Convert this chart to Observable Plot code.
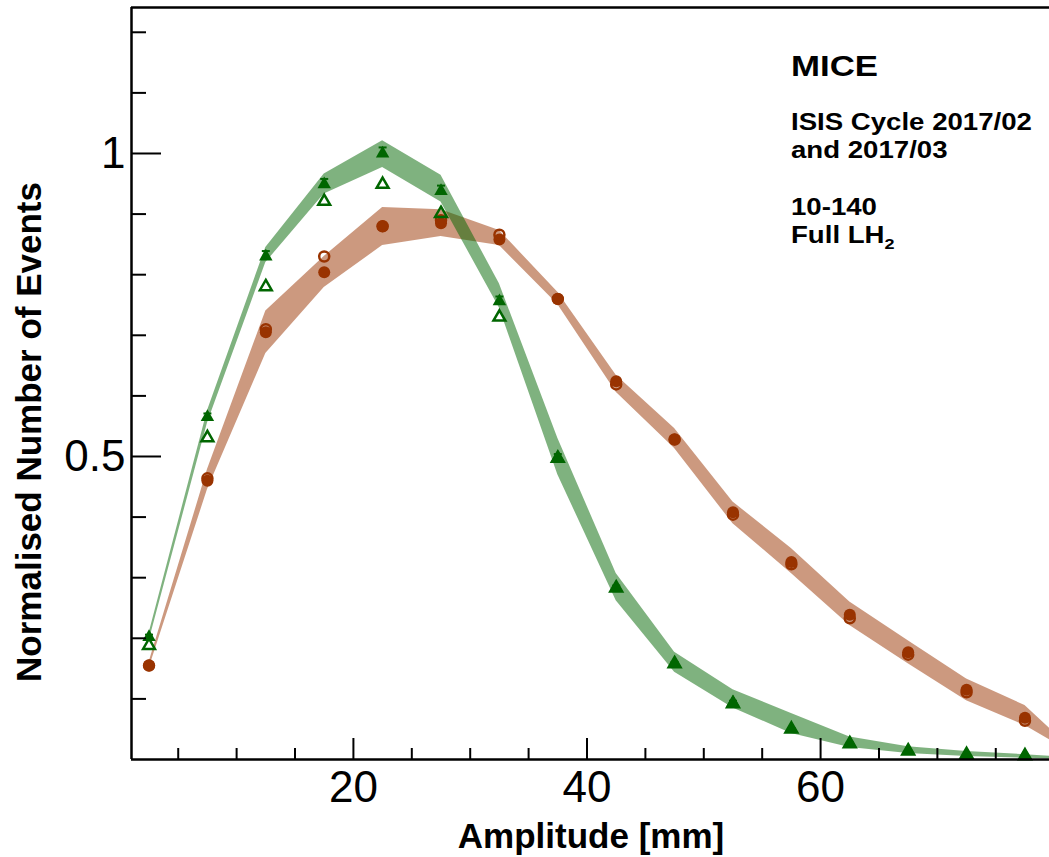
<!DOCTYPE html>
<html><head><meta charset="utf-8">
<script src="https://cdn.jsdelivr.net/npm/d3@7"></script>
<script src="https://cdn.jsdelivr.net/npm/@observablehq/plot@0.6"></script>
<style>
body{margin:0;background:#fff;}
#wrap{position:relative;width:1049px;height:857px;overflow:hidden;font-family:"Liberation Sans",Arial,sans-serif;}
.lbl{position:absolute;white-space:nowrap;line-height:1;font-weight:bold;color:#000;}
</style></head><body><div id="wrap"></div>
<script>
// ---- data ----
const amplitude = [2.5, 7.5, 12.5, 17.5, 22.5, 27.5, 32.5, 37.5, 42.5, 47.5, 52.5, 57.5, 62.5, 67.5, 72.5, 77.5];
const greenFilled    = [0.202, 0.565, 0.830, 0.949, 1.000, 0.938, 0.756, 0.498, 0.283, 0.158, 0.094, 0.050, 0.026, 0.014, 0.008, 0.0066];
const greenFilledErr = [0.004, 0.006, 0.009, 0.009, 0.010, 0.009, 0.008, 0.006, 0.004, 0.003, 0.003, 0.002, 0.002, 0.001, 0.001, 0.001];
const greenOpen      = [0.188, 0.531, 0.780, 0.921, 0.949, 0.901, 0.730, 0.497, 0.283, 0.158, 0.092, 0.050, 0.026, 0.014, 0.008, 0.006];
const brownFilled    = [0.155, 0.460, 0.705, 0.804, 0.880, 0.885, 0.858, 0.760, 0.624, 0.528, 0.408, 0.326, 0.239, 0.177, 0.115, 0.069];
const brownOpen      = [0.155, 0.464, 0.710, 0.830, 0.880, 0.890, 0.866, 0.760, 0.619, 0.528, 0.404, 0.322, 0.233, 0.173, 0.111, 0.064];

const bandAmplitude = [2.5, 7.5, 12.5, 17.5, 22.5, 27.5, 32.5, 37.5, 42.5, 47.5, 52.5, 57.5, 62.5, 67.5, 72.5, 77.5, 82.5];
const greenLo = [0.195, 0.555, 0.820, 0.933, 0.977, 0.920, 0.745, 0.470, 0.262, 0.144, 0.085, 0.043, 0.020, 0.010, 0.005, 0.002, 0.000];
const greenHi = [0.208, 0.575, 0.845, 0.966, 1.021, 0.964, 0.785, 0.530, 0.307, 0.177, 0.115, 0.076, 0.037, 0.021, 0.013, 0.008, 0.002];
const brownLo = [0.150, 0.445, 0.670, 0.779, 0.848, 0.863, 0.848, 0.751, 0.606, 0.513, 0.389, 0.307, 0.221, 0.158, 0.097, 0.056, 0.000];
const brownHi = [0.160, 0.478, 0.740, 0.830, 0.911, 0.907, 0.873, 0.771, 0.634, 0.546, 0.425, 0.348, 0.260, 0.196, 0.133, 0.089, 0.000];

const xMajorTicks = [20, 40, 60];
const xMinorTicks = [5, 10, 15, 25, 30, 35, 45, 50, 55, 65, 70, 75];
const yMajorTicks = [0.5, 1];
const yMinorTicks = [0.1, 0.2, 0.3, 0.4, 0.6, 0.7, 0.8, 0.9, 1.1, 1.2];

const xTitle = "Amplitude [mm]";
const yTitle = "Normalised Number of Events";
const infoLines = ["ISIS Cycle 2017/02", "and 2017/03"];

// ---- layout ----
const W = 1049, H = 857, mL = 131, mR = 0, mT = 7, mB = 98;
const frameW = W - mL - mR, frameH = H - mT - mB;
const xDomain = [1.0, 79.6], yDomain = [0, 1.2409];
const GREEN = "#006600", BROWN = "#993300";

const pts = amplitude.map((a, i) => ({a, gf: greenFilled[i], ge: greenFilledErr[i], go: greenOpen[i], bf: brownFilled[i], bo: brownOpen[i]}));
const band = bandAmplitude.map((a, i) => ({a, gl: greenLo[i], gh: greenHi[i], bl: brownLo[i], bh: brownHi[i]}));

const capSymbol = {draw(ctx) { ctx.moveTo(-4, 0); ctx.lineTo(4, 0); }};

const chart = Plot.plot({
  width: W, height: H,
  marginLeft: mL, marginRight: mR, marginTop: mT, marginBottom: mB,
  style: {fontFamily: "Liberation Sans, Arial, sans-serif", background: "#fff"},
  x: {domain: xDomain},
  y: {domain: yDomain},
  marks: [
    Plot.areaY(band, {x: "a", y1: "bl", y2: "bh", fill: BROWN, fillOpacity: 0.5, clip: true}),
    Plot.areaY(band, {x: "a", y1: "gl", y2: "gh", fill: GREEN, fillOpacity: 0.5, clip: true}),
    Plot.dot(pts, {x: "a", y: "bf", r: 6, fill: BROWN}),
    Plot.dot(pts, {x: "a", y: "bo", r: 5, stroke: BROWN, strokeWidth: 2.5, fill: "none"}),
    Plot.ruleX(pts, {x: "a", y1: "gf", y2: d => d.gf + d.ge, stroke: GREEN, strokeWidth: 1.5}),
    Plot.dot(pts, {x: "a", y: d => d.gf + d.ge, symbol: capSymbol, stroke: GREEN, strokeWidth: 2}),
    Plot.dot(pts, {x: "a", y: "go", symbol: "triangle", r: 4.4, stroke: GREEN, strokeWidth: 2.5, fill: "none"}),
    Plot.dot(pts, {x: "a", y: "gf", symbol: "triangle", r: 5, fill: GREEN}),
    Plot.tickY(yMinorTicks, {y: d => d, insetRight: frameW - 15, stroke: "#000", strokeWidth: 2}),
    Plot.tickY(yMajorTicks, {y: d => d, insetRight: frameW - 30, stroke: "#000", strokeWidth: 2}),
    Plot.tickX(xMinorTicks, {x: d => d, insetTop: frameH - 11, stroke: "#000", strokeWidth: 2}),
    Plot.tickX(xMajorTicks, {x: d => d, insetTop: frameH - 21, stroke: "#000", strokeWidth: 2}),
    Plot.ruleX([xDomain[0]], {stroke: "#000", strokeWidth: 2.5}),
    Plot.ruleY([yDomain[0], yDomain[1]], {stroke: "#000", strokeWidth: 2.5}),
    Plot.axisY(yMajorTicks, {tickSize: 0, tickPadding: 6, fontSize: 44, label: null, fill: "#000", tickFormat: d => String(d)}),
    Plot.axisX(xMajorTicks, {tickSize: 0, tickPadding: 11, fontSize: 44, label: null, fill: "#000", tickFormat: d => String(d)})
  ]
});

const wrap = document.getElementById("wrap");
wrap.appendChild(chart);

function addLabel(html, css) {
  const d = document.createElement("div");
  d.className = "lbl";
  d.innerHTML = html;
  Object.assign(d.style, css);
  wrap.appendChild(d);
  return d;
}
// axis titles
addLabel(xTitle, {left: "591px", top: (848 - 0.8465 * 35) + "px", fontSize: "35px", transform: "translateX(-50%)"});
addLabel(yTitle, {left: "28px", top: "432px", fontSize: "35px", transform: "translate(-50%,-50%) rotate(-90deg)"});
// info block
const bx = 791;
addLabel("MICE", {left: bx + "px", top: (77 - 0.8465 * 29) + "px", fontSize: "29px", transform: "scaleX(1.2)", transformOrigin: "left top"});
addLabel(infoLines[0], {left: bx + "px", top: (130 - 0.8465 * 23) + "px", fontSize: "23px", transform: "scaleX(1.2)", transformOrigin: "left top"});
addLabel(infoLines[1], {left: bx + "px", top: (158.3 - 0.8465 * 23) + "px", fontSize: "23px", transform: "scaleX(1.2)", transformOrigin: "left top"});
addLabel("10-140", {left: bx + "px", top: (215 - 0.8465 * 23) + "px", fontSize: "23px", transform: "scaleX(1.2)", transformOrigin: "left top"});
addLabel('Full LH<sub style="font-size:15px;vertical-align:-6px;line-height:0">2</sub>', {left: bx + "px", top: (243.3 - 0.8465 * 23) + "px", fontSize: "23px", transform: "scaleX(1.2)", transformOrigin: "left top"});
</script>
</body></html>
